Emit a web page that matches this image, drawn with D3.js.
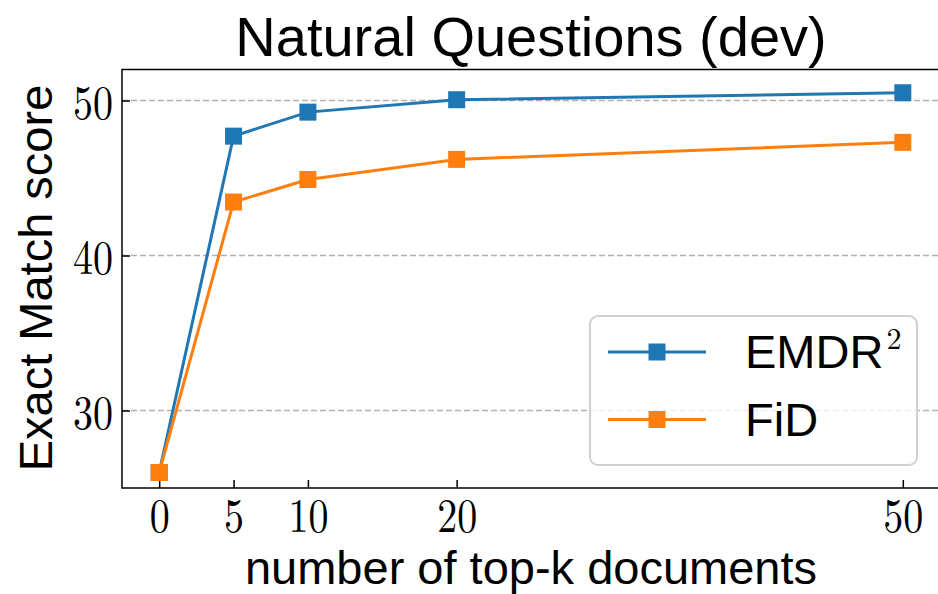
<!DOCTYPE html>
<html>
<head>
<meta charset="utf-8">
<script src="https://cdn.jsdelivr.net/npm/d3@7"></script>
<style>
  body { margin: 0; background: #fff; }
  svg { display: block; }
  .sans { font-family: "Liberation Sans", Arial, Helvetica, sans-serif; }
  .serif { font-family: "Latin Modern Roman", "CMU Serif", "Liberation Serif", "DejaVu Serif", serif; }
</style>
</head>
<body>
<svg width="938" height="594"></svg>
<script>
// data
var kValues = [0, 5, 10, 20, 50];
var emdr2Scores = [26.0, 47.7, 49.25, 50.05, 50.5];
var fidScores = [26.0, 43.45, 44.9, 46.2, 47.3];
var seriesNames = ['EMDR', 'FiD'];
var seriesColors = ['#1f77b4', '#ff7f0e'];
var xTicks = [0, 5, 10, 20, 50];
var yTicks = [30, 40, 50];

var plot = { left: 122, right: 940, top: 69.5, bottom: 488 };

var svg = d3.select('svg');

var x = d3.scaleLinear().domain([-2.5, 52.5]).range([plot.left, plot.right]);
var y = d3.scaleLinear().domain([25, 52]).range([plot.bottom, plot.top]);

// grid
svg.append('g')
  .selectAll('line')
  .data(yTicks)
  .enter().append('line')
  .attr('x1', plot.left).attr('x2', plot.right)
  .attr('y1', function (d) { return y(d); })
  .attr('y2', function (d) { return y(d); })
  .attr('stroke', '#b0b0b0')
  .attr('stroke-width', 1.3)
  .attr('stroke-dasharray', '6,3');

// axes, ticks pointing inward
var xAxis = svg.append('g')
  .attr('transform', 'translate(0,' + plot.bottom + ')')
  .call(d3.axisBottom(x).tickValues(xTicks).tickSize(-8));
var yAxis = svg.append('g')
  .attr('transform', 'translate(' + plot.left + ',0)')
  .call(d3.axisLeft(y).tickValues(yTicks).tickSize(-8));

[xAxis, yAxis].forEach(function (g) {
  g.select('.domain').remove();
  g.selectAll('.tick line').attr('stroke', '#000').attr('stroke-width', 1.5);
  // tall narrow digits, like the LaTeX font of the reference
  g.selectAll('.tick text')
    .attr('class', 'serif')
    .attr('fill', '#000')
    .attr('x', 0).attr('y', 0).attr('dy', null)
    .style('font-size', '40px');
});
xAxis.selectAll('.tick text')
  .attr('text-anchor', 'middle')
  .attr('transform', 'translate(0,43.5) scale(1,1.2)');
yAxis.selectAll('.tick text')
  .attr('text-anchor', 'end')
  .attr('transform', 'translate(-9,18) scale(1,1.2)');

// spines
svg.append('rect')
  .attr('x', plot.left).attr('y', plot.top)
  .attr('width', plot.right - plot.left).attr('height', plot.bottom - plot.top)
  .attr('fill', 'none')
  .attr('stroke', '#000')
  .attr('stroke-width', 1.5);

// lines and markers
var series = [emdr2Scores, fidScores];
var line = d3.line()
  .x(function (d, i) { return x(kValues[i]); })
  .y(function (d) { return y(d); });

series.forEach(function (vals, s) {
  svg.append('path')
    .datum(vals)
    .attr('d', line)
    .attr('fill', 'none')
    .attr('stroke', seriesColors[s])
    .attr('stroke-width', 3);
  svg.append('g')
    .selectAll('rect')
    .data(vals)
    .enter().append('rect')
    .attr('x', function (d, i) { return x(kValues[i]) - 8.5; })
    .attr('y', function (d) { return y(d) - 8.5; })
    .attr('width', 17).attr('height', 17)
    .attr('fill', seriesColors[s]);
});

// title and axis labels
svg.append('text')
  .attr('class', 'sans')
  .attr('x', (plot.left + plot.right) / 2).attr('y', 56)
  .attr('text-anchor', 'middle')
  .style('font-size', '56px')
  .text('Natural Questions (dev)');

svg.append('text')
  .attr('class', 'sans')
  .attr('x', (plot.left + plot.right) / 2).attr('y', 584)
  .attr('text-anchor', 'middle')
  .style('font-size', '47px')
  .text('number of top-k documents');

svg.append('text')
  .attr('class', 'sans')
  .attr('transform', 'translate(52,' + 278 + ') rotate(-90)')
  .attr('text-anchor', 'middle')
  .style('font-size', '47px')
  .text('Exact Match score');

// legend
var legend = svg.append('g').attr('transform', 'translate(590,316)');
legend.append('rect')
  .attr('width', 327).attr('height', 149)
  .attr('rx', 8).attr('ry', 8)
  .attr('fill', 'rgba(255,255,255,0.8)')
  .attr('stroke', '#d0d0d0')
  .attr('stroke-width', 2);

seriesNames.forEach(function (name, s) {
  var row = legend.append('g').attr('transform', 'translate(0,' + (36 + s * 67.5) + ')');
  row.append('line')
    .attr('x1', 18).attr('x2', 116)
    .attr('stroke', seriesColors[s])
    .attr('stroke-width', 3);
  row.append('rect')
    .attr('x', 58.5).attr('y', -8.5)
    .attr('width', 17).attr('height', 17)
    .attr('fill', seriesColors[s]);
  var t = row.append('text')
    .attr('class', 'sans')
    .attr('x', 155).attr('y', 16)
    .style('font-size', '47px')
    .text(name);
  if (s === 0) {
    t.append('tspan')
      .attr('class', 'serif')
      .attr('dy', -19)
      .attr('dx', 3)
      .style('font-size', '30px')
      .text('2');
  }
});
</script>
</body>
</html>
